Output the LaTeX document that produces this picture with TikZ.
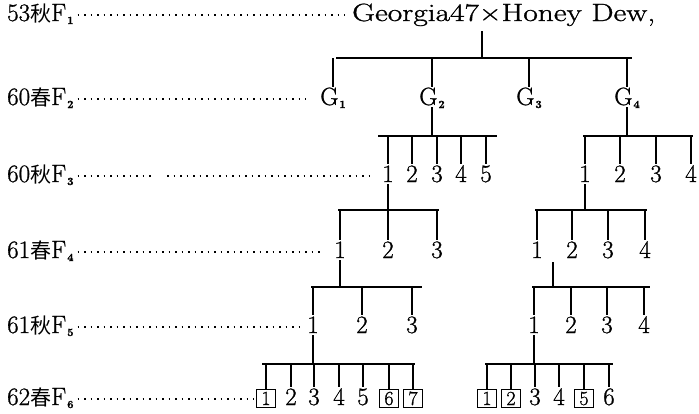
\documentclass[tikz,border=0pt]{standalone}
\usepackage{fontspec}
\setmainfont{Latin Modern Roman}[FakeBold=1.0]
\newfontfamily\cjk{Noto Sans CJK SC}
\newcommand\myfs{\fontsize{25}{25}\selectfont}
\newcommand\myfsb{\fontsize{20}{20}\selectfont}
\newcommand\mysub[1]{\kern1pt\raisebox{-3pt}{\fontsize{11}{11}\selectfont\bfseries #1}}
\newcommand\kj[1]{{\cjk\fontsize{21}{21}\selectfont #1}}
\tikzset{
  lab/.style={anchor=base west, inner sep=0pt, font=\myfs},
  num/.style={anchor=base, inner sep=2pt, text height=16pt, text depth=0pt, font=\myfs},
  bx/.style={anchor=base, draw, line width=0.9pt, inner sep=2pt, text height=13.5pt, text depth=0pt, minimum width=19pt, font=\myfsb},
  ln/.style={line width=1.2pt},
  leader/.style={line width=1.6pt, dash pattern=on 1.6pt off 4.9pt},
}
\begin{document}
\begin{tikzpicture}[x=1pt,y=-1pt]
\useasboundingbox (0,0) rectangle (699,413);
% row labels
\node[lab] (L1) at (7,21) {53\kj{秋}F\mysub{1}};
\node[lab] (L2) at (7,105) {60\kj{春}F\mysub{2}};
\node[lab] (L3) at (7,182) {60\kj{秋}F\mysub{3}};
\node[lab] (L4) at (7,258) {61\kj{春}F\mysub{4}};
\node[lab] (L5) at (7,333) {61\kj{秋}F\mysub{5}};
\node[lab] (L6) at (7,405) {62\kj{春}F\mysub{6}};
% top cross
\node[anchor=base west, inner sep=0pt, font=\myfs] (top) at (352,21) {\resizebox{303pt}{\height}{Georgia47×Honey Dew,}};
% F2
\node[num] (G1) at (333,105) {G\mysub{1}};
\node[num] (G2) at (432,105) {G\mysub{2}};
\node[num] (G3) at (529,105) {G\mysub{3}};
\node[num] (G4) at (627,105) {G\mysub{4}};
% F3
\node[num] (a1) at (388,182) {1};
\node[num] (a2) at (412,182) {2};
\node[num] (a3) at (437,182) {3};
\node[num] (a4) at (461,182) {4};
\node[num] (a5) at (486,182) {5};
\node[num] (b1) at (585,182) {1};
\node[num] (b2) at (620,182) {2};
\node[num] (b3) at (656,182) {3};
\node[num] (b4) at (691,182) {4};
% F4
\node[num] (c1) at (340,258) {1};
\node[num] (c2) at (388,258) {2};
\node[num] (c3) at (437,258) {3};
\node[num] (d1) at (537,258) {1};
\node[num] (d2) at (572,258) {2};
\node[num] (d3) at (608,258) {3};
\node[num] (d4) at (645,258) {4};
% F5
\node[num] (e1) at (313,333) {1};
\node[num] (e2) at (362,333) {2};
\node[num] (e3) at (412,333) {3};
\node[num] (f1) at (534,333) {1};
\node[num] (f2) at (571,333) {2};
\node[num] (f3) at (607,333) {3};
\node[num] (f4) at (644,333) {4};
% F6
\node[bx]  (g1) at (266,405) {1};
\node[num] (g2) at (291,405) {2};
\node[num] (g3) at (314,405) {3};
\node[num] (g4) at (339,405) {4};
\node[num] (g5) at (363,405) {5};
\node[bx]  (g6) at (389,405) {6};
\node[bx]  (g7) at (413,405) {7};
\node[bx]  (h1) at (487,405) {1};
\node[bx]  (h2) at (511,405) {2};
\node[num] (h3) at (535,405) {3};
\node[num] (h4) at (559,405) {4};
\node[bx]  (h5) at (584,405) {5};
\node[num] (h6) at (609,405) {6};
% leaders
\draw[leader, shorten <=4pt, shorten >=7pt] ([yshift=6pt]L1.base east) -- ([yshift=6pt]top.base west);
\draw[leader, shorten <=4pt, shorten >=12pt] ([yshift=6pt]L2.base east) -- ([yshift=6pt]G1.base west);
\coordinate (gA) at (153,176);
\coordinate (gB) at (167,176);
\draw[leader, shorten <=4pt] ([yshift=6pt]L3.base east) -- (gA);
\draw[leader, shorten >=6pt] (gB) -- ([yshift=6pt]a1.base west);
\draw[leader, shorten <=4pt, shorten >=8pt] ([yshift=6pt]L4.base east) -- ([yshift=6pt]c1.base west);
\draw[leader, shorten <=4pt, shorten >=5pt] ([yshift=6pt]L5.base east) -- ([yshift=6pt]e1.base west);
\draw[leader, shorten <=4pt, shorten >=2pt] ([yshift=6pt]L6.base east) -- ([yshift=6pt]g1.base west);
% bar 1
\coordinate (b1L) at (336,58); \coordinate (b1R) at (632,58);
\coordinate (d0) at (482,31);
\draw[ln] (b1L) -- (b1R);
\draw[ln] (d0) -- (d0 |- b1L);
\foreach \n in {G1,G2,G3,G4} \draw[ln] (\n.north) -- (\n.north |- b1L);
% bar 2
\coordinate (b2L) at (378,136); \coordinate (b2R) at (497,136);
\draw[ln] (b2L) -- (b2R);
\draw[ln] (G2.south) -- (G2.south |- b2L);
\foreach \n in {a1,a2,a3,a4,a5} \draw[ln] (\n.north) -- (\n.north |- b2L);
\coordinate (b2c) at (583,136); \coordinate (b2d) at (693,136);
\draw[ln] (b2c) -- (b2d);
\draw[ln] (G4.south) -- (G4.south |- b2c);
\foreach \n in {b1,b2,b3,b4} \draw[ln] (\n.north) -- (\n.north |- b2c);
% bar 3
\coordinate (b3L) at (338,210); \coordinate (b3R) at (439,210);
\draw[ln] (b3L) -- (b3R);
\draw[ln] (a1.south) -- (a1.south |- b3L);
\foreach \n in {c1,c2,c3} \draw[ln] (\n.north) -- (\n.north |- b3L);
\coordinate (b3c) at (535,210); \coordinate (b3d) at (647,210);
\draw[ln] (b3c) -- (b3d);
\draw[ln] (b1.south) -- (b1.south |- b3c);
\foreach \n in {d1,d2,d3,d4} \draw[ln] (\n.north) -- (\n.north |- b3c);
% bar 4
\coordinate (b4L) at (311,287); \coordinate (b4R) at (422,287);
\draw[ln] (b4L) -- (b4R);
\draw[ln] (c1.south) -- (c1.south |- b4L);
\foreach \n in {e1,e2,e3} \draw[ln] (\n.north) -- (\n.north |- b4L);
\coordinate (b4c) at (532,287); \coordinate (b4d) at (650,287);
\coordinate (dR) at (553,262);
\draw[ln] (b4c) -- (b4d);
\draw[ln] (dR) -- (dR |- b4c);
\foreach \n in {f1,f2,f3,f4} \draw[ln] (\n.north) -- (\n.north |- b4c);
% bar 5
\coordinate (b5L) at (262,364); \coordinate (b5R) at (415,364);
\draw[ln] (b5L) -- (b5R);
\draw[ln] (e1.south) -- (e1.south |- b5L);
\foreach \n in {g1,g2,g3,g4,g5,g6,g7} \draw[ln] (\n.north) -- (\n.north |- b5L);
\coordinate (b5c) at (485,364); \coordinate (b5d) at (613,364);
\draw[ln] (b5c) -- (b5d);
\draw[ln] (f1.south) -- (f1.south |- b5c);
\foreach \n in {h1,h2,h3,h4,h5,h6} \draw[ln] (\n.north) -- (\n.north |- b5c);
\end{tikzpicture}
\end{document}
